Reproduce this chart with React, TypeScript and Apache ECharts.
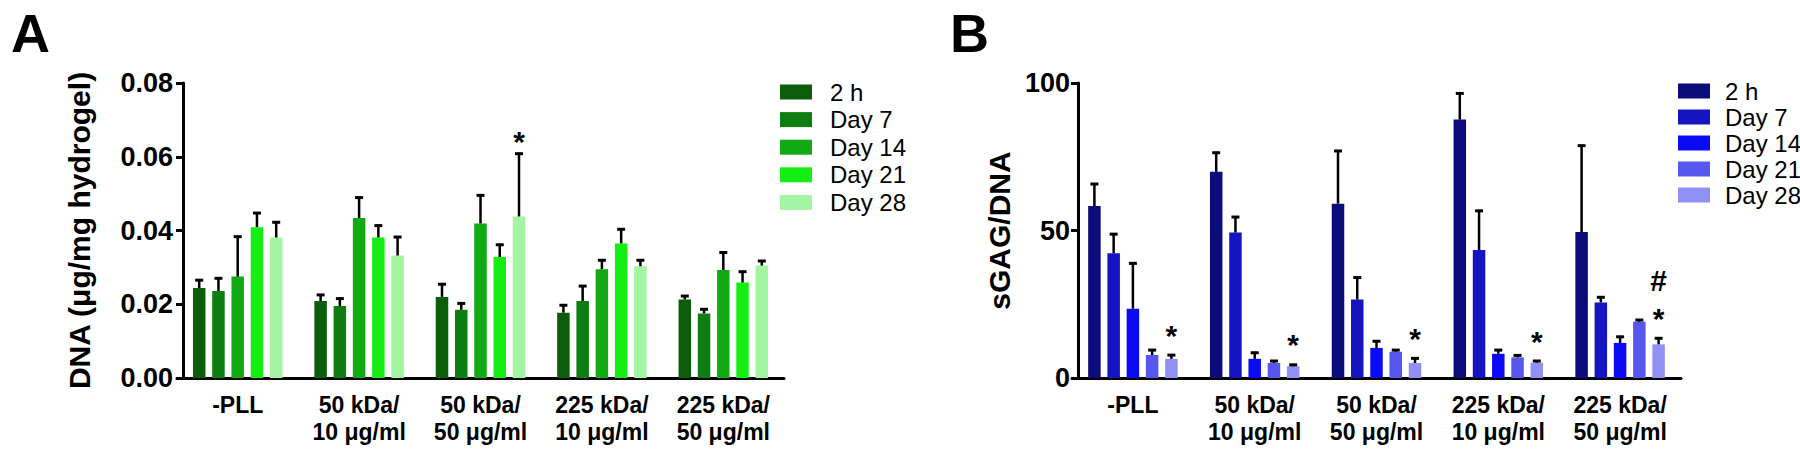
import React, { useEffect, useRef } from "react";
import * as echarts from "echarts";

// ---------- data ----------
const categories = [
  "-PLL",
  "50 kDa/\n10 μg/ml",
  "50 kDa/\n50 μg/ml",
  "225 kDa/\n10 μg/ml",
  "225 kDa/\n50 μg/ml",
];
const timePoints = ["2 h", "Day 7", "Day 14", "Day 21", "Day 28"];

// Panel A: DNA (µg/mg hydrogel), mean and SD per time point across categories
const dna2h = [0.0244, 0.0209, 0.022, 0.0177, 0.0213];
const dnaD7 = [0.0236, 0.0195, 0.0185, 0.0209, 0.0175];
const dnaD14 = [0.0275, 0.0434, 0.0419, 0.0295, 0.0293];
const dnaD21 = [0.0409, 0.0381, 0.0328, 0.0365, 0.0259];
const dnaD28 = [0.0381, 0.0332, 0.0438, 0.0303, 0.0305];
const dnaSd2h = [0.0024, 0.0019, 0.0037, 0.0023, 0.0012];
const dnaSdD7 = [0.0037, 0.0023, 0.002, 0.0043, 0.0014];
const dnaSdD14 = [0.0111, 0.0058, 0.0079, 0.0027, 0.005];
const dnaSdD21 = [0.0041, 0.0035, 0.0036, 0.0041, 0.0032];
const dnaSdD28 = [0.0044, 0.0053, 0.0173, 0.0019, 0.0015];
const dnaAnnD28 = ["", "", "*", "", ""];
const dnaTicks = [0, 0.02, 0.04, 0.06, 0.08];

// Panel B: sGAG/DNA
const gag2h = [58.3, 69.9, 59.1, 87.6, 49.5];
const gagD7 = [42.3, 49.3, 26.6, 43.4, 25.6];
const gagD14 = [23.5, 6.5, 10.2, 8.2, 11.9];
const gagD21 = [7.8, 5.1, 8.9, 7.0, 19.1];
const gagD28 = [6.5, 4.0, 5.1, 5.2, 11.4];
const gagSd2h = [7.8, 6.8, 18.2, 9.2, 29.6];
const gagSdD7 = [6.8, 5.6, 7.8, 13.6, 2.1];
const gagSdD14 = [15.7, 2.4, 2.6, 1.6, 2.4];
const gagSdD21 = [2.0, 1.0, 0.9, 1.0, 0.9];
const gagSdD28 = [1.6, 0.8, 1.9, 0.9, 2.4];
const gagAnnD28 = ["*", "*", "*", "*", "#\n*"];
const gagTicks = [0, 50, 100];

const greens = ["#0b5c0b", "#0e7e12", "#12aa14", "#14ee14", "#a3f5a3"];
const blues = ["#0b0b7a", "#1414c0", "#0a0af5", "#5757ee", "#9090f5"];

// ---------- style ----------
const FONT = "'Liberation Sans', Arial, Helvetica, sans-serif";
const BAR_W = 12.5;
const BAR_GAP = 0.54;
const PITCH = BAR_W * (1 + BAR_GAP);

type PanelCfg = {
  letter: string;
  letterLeft: number;
  yName: string;
  yNameGap: number;
  means: number[][];
  sds: number[][];
  anns: string[][];
  ticks: number[];
  decimals: number;
  colors: string[];
  gridLeft: number;
  gridWidth: number;
  labelMargin: number;
  legendLeft: number;
  legendTop: number;
  legendGap: number;
  legendPad: number;
  annGap: number;
};

function buildOption(c: PanelCfg) {
  const errData: number[][] = [];
  c.means.forEach((arr, s) =>
    arr.forEach((m, k) => errData.push([k, s, m, m + c.sds[s][k]]))
  );
  const step = c.ticks[1] - c.ticks[0];
  const axisColor = "#000";
  return {
    animation: false,
    backgroundColor: "transparent",
    title: {
      text: c.letter,
      left: c.letterLeft,
      top: 1,
      textStyle: { fontSize: 54, fontWeight: "bold", fontFamily: FONT, color: "#000" },
    },
    legend: {
      orient: "vertical",
      left: c.legendLeft,
      top: c.legendTop,
      icon: "rect",
      itemWidth: 32,
      itemHeight: 15,
      itemGap: c.legendGap,
      data: timePoints,
      selectedMode: false,
      textStyle: {
        fontSize: 24,
        fontFamily: FONT,
        color: "#000",
        padding: [0, 0, 0, c.legendPad],
      },
    },
    grid: {
      left: c.gridLeft,
      top: 83,
      width: c.gridWidth,
      height: 295,
      outerBoundsMode: "none",
    },
    xAxis: {
      type: "category",
      data: categories,
      axisLine: { lineStyle: { color: axisColor, width: 3 } },
      axisTick: { alignWithLabel: true, length: 8, lineStyle: { color: axisColor, width: 3 } },
      axisLabel: {
        color: "#000",
        fontFamily: FONT,
        fontWeight: "bold",
        fontSize: 23,
        lineHeight: 27,
        margin: 13,
        interval: 0,
      },
    },
    yAxis: {
      type: "value",
      min: c.ticks[0],
      max: c.ticks[c.ticks.length - 1],
      interval: step,
      offset: -6,
      name: c.yName,
      nameLocation: "middle",
      nameRotate: 90,
      nameGap: c.yNameGap,
      nameTextStyle: { fontSize: 30, fontWeight: "bold", fontFamily: FONT, color: "#000" },
      axisLine: { show: true, lineStyle: { color: axisColor, width: 3 } },
      axisTick: { show: true, length: 7, lineStyle: { color: axisColor, width: 3 } },
      splitLine: { show: false },
      axisLabel: {
        color: "#000",
        fontFamily: FONT,
        fontWeight: "bold",
        fontSize: 27,
        margin: c.labelMargin,
        formatter: (v: number) => v.toFixed(c.decimals),
      },
    },
    series: [
      ...c.means.map((arr, s) => ({
        type: "bar",
        name: timePoints[s],
        data: arr,
        barWidth: BAR_W,
        barGap: `${BAR_GAP * 100}%`,
        itemStyle: { color: c.colors[s] },
        z: 2,
      })),
      {
        type: "custom",
        name: "err",
        data: errData,
        encode: { x: 0, y: [2, 3] },
        z: 5,
        renderItem: (params: any, api: any) => {
          const k = api.value(0);
          const s = api.value(1);
          const base = api.coord([k, api.value(2)]);
          const tp = api.coord([k, api.value(3)]);
          const x = base[0] + (s - 2) * PITCH;
          const children: any[] = [
            {
              type: "line",
              shape: { x1: x, y1: base[1], x2: x, y2: tp[1] },
              style: { stroke: "#000", lineWidth: 2.5 },
            },
            {
              type: "line",
              shape: { x1: x - 4, y1: tp[1] + 1, x2: x + 4, y2: tp[1] + 1 },
              style: { stroke: "#000", lineWidth: 3 },
            },
          ];
          const ann = c.anns[s] ? c.anns[s][k] : "";
          if (ann) {
            const lines = ann.split("\n").reverse();
            lines.forEach((t, j) => {
              children.push({
                type: "text",
                x: x,
                y: tp[1] - c.annGap - j * 38,
                style: {
                  text: t,
                  fontSize: 30,
                  fontWeight: "bold",
                  fontFamily: FONT,
                  fill: "#000",
                  align: "center",
                  verticalAlign: "middle",
                },
              });
            });
          }
          return { type: "group", children };
        },
      },
    ],
  };
}

const B_LEFT = 940;

const panelA: PanelCfg = {
  letter: "A",
  letterLeft: 6,
  yName: "DNA (μg/mg hydrogel)",
  yNameGap: 89,
  means: [dna2h, dnaD7, dnaD14, dnaD21, dnaD28],
  sds: [dnaSd2h, dnaSdD7, dnaSdD14, dnaSdD21, dnaSdD28],
  anns: [[], [], [], [], dnaAnnD28],
  ticks: dnaTicks,
  decimals: 2,
  colors: greens,
  gridLeft: 177,
  gridWidth: 607,
  labelMargin: 10,
  legendLeft: 775,
  legendTop: 75,
  legendGap: 3.6,
  legendPad: 13,
  annGap: 11,
};

const panelB: PanelCfg = {
  letter: "B",
  letterLeft: 945 - B_LEFT,
  yName: "sGAG/DNA",
  yNameGap: 50,
  means: [gag2h, gagD7, gagD14, gagD21, gagD28],
  sds: [gagSd2h, gagSdD7, gagSdD14, gagSdD21, gagSdD28],
  anns: [[], [], [], [], gagAnnD28],
  ticks: gagTicks,
  decimals: 0,
  colors: blues,
  gridLeft: 1072 - B_LEFT,
  gridWidth: 609,
  labelMargin: 8,
  legendLeft: 1673 - B_LEFT,
  legendTop: 74,
  legendGap: 2,
  legendPad: 10,
  annGap: 19,
};

export default function App() {
  const refA = useRef<HTMLDivElement>(null);
  const refB = useRef<HTMLDivElement>(null);
  useEffect(() => {
    const ca = echarts.init(refA.current!, undefined, { renderer: "svg" });
    const cb = echarts.init(refB.current!, undefined, { renderer: "svg" });
    ca.setOption(buildOption(panelA) as any);
    cb.setOption(buildOption(panelB) as any);
    return () => {
      ca.dispose();
      cb.dispose();
    };
  }, []);
  return (
    <div
      style={{
        position: "fixed",
        left: 0,
        top: 0,
        width: 1800,
        height: 450,
        background: "#fff",
      }}
    >
      <div ref={refA} style={{ position: "absolute", left: 0, top: 0, width: 960, height: 450 }} />
      <div
        ref={refB}
        style={{ position: "absolute", left: B_LEFT, top: 0, width: 1800 - B_LEFT, height: 450 }}
      />
    </div>
  );
}
